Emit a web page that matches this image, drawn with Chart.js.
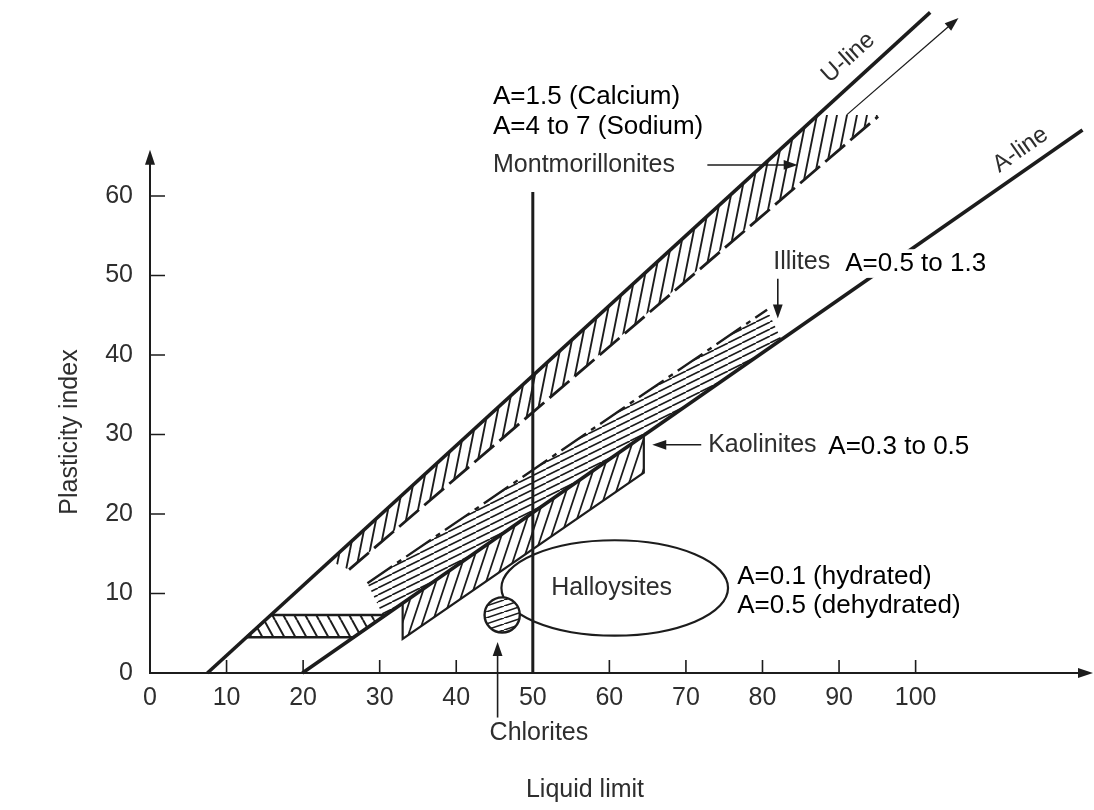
<!DOCTYPE html>
<html>
<head>
<meta charset="utf-8">
<script src="https://cdn.jsdelivr.net/npm/chart.js@4.4.1/dist/chart.umd.min.js"></script>
<style>
  body { margin: 0; background: #fff; }
  #wrap { width: 1094px; height: 810px; }
</style>
</head>
<body>
<div id="wrap"><canvas id="chart" width="1094" height="810"></canvas></div>
<script>
// axis ticks
var xTicks = [0, 10, 20, 30, 40, 50, 60, 70, 80, 90, 100];
var yTicks = [0, 10, 20, 30, 40, 50, 60];

// lines, as [liquid limit, plasticity index]
var uLine = [[7.5, 0], [101.9, 83.1]];
var aLine = [[19.9, 0], [121.8, 68.3]];
var llFifty = [[50, 0], [50, 60.5]];

// mineral zones
var montLower = [[26, 13.0], [95.1, 70.0]];
var montZone = [[23.5, 14.1], [87.3, 70.2], [95.1, 70.2], [26, 13.0]];
var illiteUpper = [[28.4, 11.3], [80.6, 45.7]];
var illiteZone = [[28.4, 11.3], [80.6, 45.7], [82.5, 41.9], [30.5, 7.1]];
var kaoliniteZone = [[33, 8.8], [64.5, 29.9], [64.5, 25.2], [33, 4.3]];
var clmlZone = [[12.6, 4.5], [15.8, 7.3], [30.8, 7.3], [26.6, 4.5]];
var halloysite = [60.7, 10.7, 14.8, 6.0];   // centre LL, centre PI, half-width, half-height
var chlorite = [46.0, 7.3, 2.3];            // centre LL, centre PI, radius (LL units)

var FONT = '"Liberation Sans", Arial, sans-serif';
var INK = '#1c1c1c';
var SCAN = '#2e2e2e';

function pts(arr) {
    return arr.map(function (p) { return {x: p[0], y: p[1]}; });
}
function closed(arr) {
    return pts(arr.concat([arr[0]]));
}

// simple line hatch pattern, slope>0 is '/', slope<0 is '\'
function hatch(w, h, slope, lw) {
    var c = document.createElement('canvas');
    c.width = w; c.height = h;
    var g = c.getContext('2d');
    g.strokeStyle = INK;
    g.lineWidth = lw;
    g.beginPath();
    for (var k = -1; k <= 1; k++) {
        if (slope > 0) { g.moveTo(k * w, h); g.lineTo((k + 1) * w, 0); }
        else { g.moveTo(k * w, 0); g.lineTo((k + 1) * w, h); }
    }
    g.stroke();
    return g.createPattern(c, 'repeat');
}

function arrow(ctx, x1, y1, x2, y2, lw, head) {
    var a = Math.atan2(y2 - y1, x2 - x1);
    ctx.save();
    ctx.strokeStyle = INK; ctx.fillStyle = INK; ctx.lineWidth = lw;
    ctx.beginPath(); ctx.moveTo(x1, y1);
    ctx.lineTo(x2 - Math.cos(a) * head * 0.8, y2 - Math.sin(a) * head * 0.8);
    ctx.stroke();
    ctx.beginPath();
    ctx.moveTo(x2, y2);
    ctx.lineTo(x2 - head * Math.cos(a) + head * 0.35 * Math.sin(a), y2 - head * Math.sin(a) - head * 0.35 * Math.cos(a));
    ctx.lineTo(x2 - head * Math.cos(a) - head * 0.35 * Math.sin(a), y2 - head * Math.sin(a) + head * 0.35 * Math.cos(a));
    ctx.closePath(); ctx.fill();
    ctx.restore();
}

// text notes (LL, PI positions); bg = white box behind
var notes = [
    {t: 'A=1.5 (Calcium)', x: 44.8, y: 72.5, al: 'left', s: 26, c: '#000', bg: true},
    {t: 'A=4 to 7 (Sodium)', x: 44.8, y: 68.7, al: 'left', s: 26, c: '#000', bg: true},
    {t: 'Montmorillonites', x: 44.8, y: 63.9, al: 'left', s: 25, c: SCAN},
    {t: 'Illites', x: 81.4, y: 51.7, al: 'left', s: 25, c: SCAN},
    {t: 'A=0.5 to 1.3', x: 90.8, y: 51.5, al: 'left', s: 26, c: '#000', bg: true},
    {t: 'Kaolinites', x: 72.9, y: 28.7, al: 'left', s: 25, c: SCAN},
    {t: 'A=0.3 to 0.5', x: 88.6, y: 28.4, al: 'left', s: 26, c: '#000', bg: true},
    {t: 'Halloysites', x: 60.3, y: 10.7, al: 'center', s: 25, c: SCAN},
    {t: 'A=0.1 (hydrated)', x: 76.7, y: 12.1, al: 'left', s: 26, c: '#000', bg: true},
    {t: 'A=0.5 (dehydrated)', x: 76.7, y: 8.5, al: 'left', s: 26, c: '#000', bg: true},
    {t: 'Chlorites', x: 50.8, y: -7.6, al: 'center', s: 25, c: SCAN},
    {t: 'U-line', x: 91.2, y: 77.4, al: 'center', s: 24, c: SCAN, rot: -42},
    {t: 'A-line', x: 113.7, y: 65.8, al: 'center', s: 24, c: SCAN, rot: -35}
];

// pointer arrows, [from LL, from PI, to LL, to PI, width]
var pointers = [
    [72.8, 63.9, 84.6, 63.9, 1.6],
    [82.0, 49.6, 82.0, 44.6, 1.6],
    [72.0, 28.7, 65.6, 28.7, 1.6],
    [45.4, -5.6, 45.4, 3.9, 1.6],
    [91.0, 70.2, 105.6, 82.4, 1.3]
];

var chartFrame = {
    id: 'chartFrame',
    afterDatasetsDraw: function (chart) {
        var ctx = chart.ctx, x = chart.scales.x, y = chart.scales.y;
        var ca = chart.chartArea;
        ctx.save();

        // halloysite ellipse
        ctx.strokeStyle = INK; ctx.lineWidth = 2.2;
        var ex = x.getPixelForValue(halloysite[0]), ey = y.getPixelForValue(halloysite[1]);
        var rx = x.getPixelForValue(halloysite[0] + halloysite[2]) - ex;
        var ry = ey - y.getPixelForValue(halloysite[1] + halloysite[3]);
        ctx.beginPath(); ctx.ellipse(ex, ey, rx, ry, 0, 0, Math.PI * 2); ctx.stroke();

        // chlorite circle
        var cx = x.getPixelForValue(chlorite[0]), cy = y.getPixelForValue(chlorite[1]);
        var cr = x.getPixelForValue(chlorite[0] + chlorite[2]) - cx;
        ctx.beginPath(); ctx.arc(cx, cy, cr, 0, Math.PI * 2);
        ctx.fillStyle = '#fff'; ctx.fill();
        ctx.fillStyle = hatch(18, 6, 1, 1.6); ctx.fill();
        ctx.lineWidth = 2.4; ctx.stroke();

        // axes
        var x0 = ca.left, y0 = y.getPixelForValue(0);
        var yTop = y.getPixelForValue(65.8);
        ctx.strokeStyle = INK; ctx.fillStyle = INK; ctx.lineWidth = 2;
        ctx.beginPath();
        ctx.moveTo(x0, yTop + 10); ctx.lineTo(x0, y0); ctx.lineTo(ca.right - 10, y0);
        ctx.stroke();
        ctx.beginPath(); ctx.moveTo(x0, yTop); ctx.lineTo(x0 - 5, yTop + 15); ctx.lineTo(x0 + 5, yTop + 15); ctx.fill();
        ctx.beginPath(); ctx.moveTo(ca.right - 1, y0); ctx.lineTo(ca.right - 16, y0 - 5); ctx.lineTo(ca.right - 16, y0 + 5); ctx.fill();

        ctx.lineWidth = 1.6;
        ctx.beginPath();
        yTicks.forEach(function (v) {
            if (v === 0) return;
            var py = y.getPixelForValue(v);
            ctx.moveTo(x0, py); ctx.lineTo(x0 + 15, py);
        });
        xTicks.forEach(function (v) {
            if (v === 0) return;
            var px = x.getPixelForValue(v);
            ctx.moveTo(px, y0); ctx.lineTo(px, y0 - 13);
        });
        ctx.stroke();

        pointers.forEach(function (p) {
            arrow(ctx, x.getPixelForValue(p[0]), y.getPixelForValue(p[1]),
                x.getPixelForValue(p[2]), y.getPixelForValue(p[3]), p[4], 14);
        });

        // notes
        ctx.textBaseline = 'middle';
        notes.forEach(function (n) {
            ctx.save();
            ctx.translate(x.getPixelForValue(n.x), y.getPixelForValue(n.y));
            if (n.rot) ctx.rotate(n.rot * Math.PI / 180);
            ctx.font = n.s + 'px ' + FONT;
            ctx.textAlign = n.al;
            if (n.bg) {
                var w = ctx.measureText(n.t).width;
                var bx = n.al === 'center' ? -w / 2 : 0;
                ctx.fillStyle = '#fff';
                ctx.fillRect(bx - 3, -n.s * 0.55, w + 6, n.s * 1.1);
            }
            ctx.fillStyle = n.c;
            ctx.fillText(n.t, 0, 0);
            ctx.restore();
        });

        // axis titles
        ctx.font = '25px ' + FONT;
        ctx.fillStyle = SCAN;
        ctx.textAlign = 'center';
        ctx.fillText('Liquid limit', 585, 790);
        ctx.save();
        ctx.translate(70, 432);
        ctx.rotate(-Math.PI / 2);
        ctx.fillText('Plasticity index', 0, 0);
        ctx.restore();

        ctx.restore();
    }
};

var lineBase = {showLine: true, pointRadius: 0, tension: 0, fill: false, clip: false, borderColor: INK};

var chart = new Chart(document.getElementById('chart'), {
    type: 'scatter',
    data: {
        datasets: [
            Object.assign({}, lineBase, {label: 'U-line', data: pts(uLine), borderWidth: 3.6}),
            Object.assign({}, lineBase, {label: 'A-line', data: pts(aLine), borderWidth: 3.6}),
            Object.assign({}, lineBase, {label: 'LL = 50', data: pts(llFifty), borderWidth: 3}),
            Object.assign({}, lineBase, {label: 'Montmorillonite lower', data: pts(montLower), borderWidth: 2.8, borderDash: [26, 7]}),
            Object.assign({}, lineBase, {label: 'Illite upper', data: pts(illiteUpper), borderWidth: 2.4, borderDash: [30, 6, 5, 6]}),
            Object.assign({}, lineBase, {label: 'CL-ML', data: closed(clmlZone), borderWidth: 2.4, fill: 'shape', backgroundColor: hatch(11, 20, -1, 2)}),
            Object.assign({}, lineBase, {label: 'Kaolinites', data: closed(kaoliniteZone), borderWidth: 2.2, fill: 'shape', backgroundColor: hatch(10, 30, 1, 1.8)}),
            Object.assign({}, lineBase, {label: 'Illites', data: closed(illiteZone), borderWidth: 0, borderColor: 'rgba(0,0,0,0)', fill: 'shape', backgroundColor: hatch(14, 7, 1, 1.6)}),
            Object.assign({}, lineBase, {label: 'Montmorillonites', data: closed(montZone), borderWidth: 0, borderColor: 'rgba(0,0,0,0)', fill: 'shape', backgroundColor: hatch(10, 50, 1, 1.9)})
        ]
    },
    options: {
        responsive: false,
        animation: false,
        devicePixelRatio: 1,
        layout: {padding: 0},
        plugins: {legend: {display: false}, tooltip: {enabled: false}},
        scales: {
            x: {
                type: 'linear', min: 0, max: 123.3,
                grid: {display: false, drawTicks: false},
                border: {display: false},
                ticks: {font: {family: FONT, size: 25}, color: SCAN, padding: 10, maxRotation: 0},
                afterBuildTicks: function (s) { s.ticks = xTicks.map(function (v) { return {value: v}; }); },
                afterFit: function (s) { s.height = 137; s.paddingLeft = 0; s.paddingRight = 0; }
            },
            y: {
                type: 'linear', min: 0, max: 84.65,
                grid: {display: false, drawTicks: false},
                border: {display: false},
                ticks: {font: {family: FONT, size: 25}, color: SCAN, padding: 17},
                afterBuildTicks: function (s) { s.ticks = yTicks.map(function (v) { return {value: v}; }); },
                afterFit: function (s) { s.width = 150; s.paddingTop = 0; s.paddingBottom = 0; }
            }
        }
    },
    plugins: [chartFrame]
});
</script>
</body>
</html>
